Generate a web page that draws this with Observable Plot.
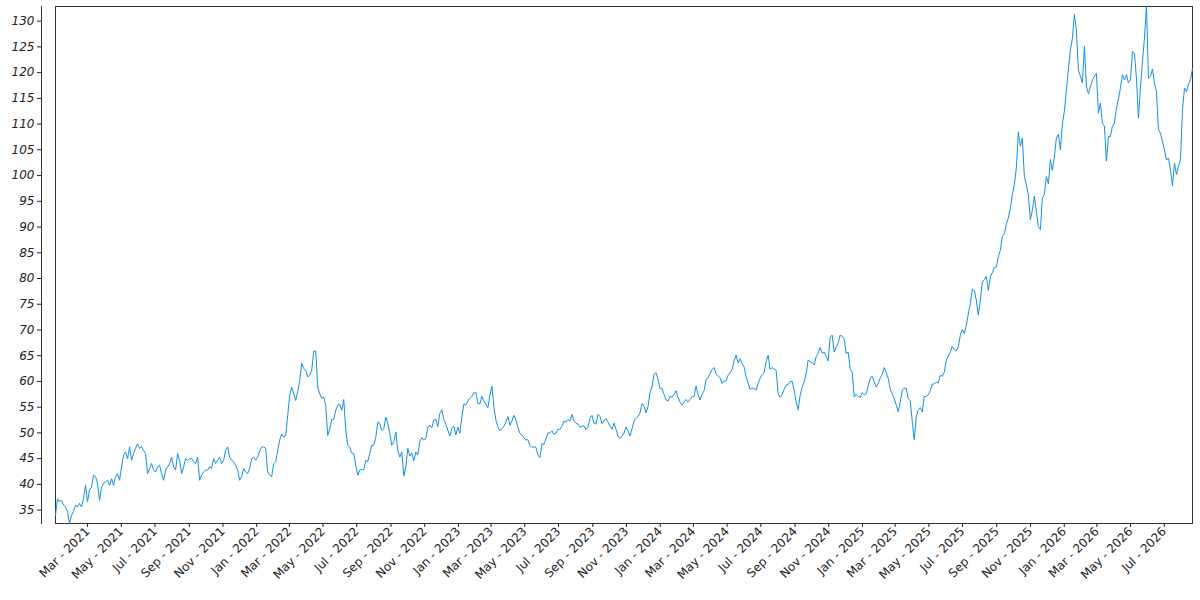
<!DOCTYPE html>
<html>
<head>
<meta charset="utf-8">
<script src="https://cdn.jsdelivr.net/npm/d3@7"></script>
<script src="https://cdn.jsdelivr.net/npm/@observablehq/plot@0.6"></script>
<style>
  html, body { margin: 0; padding: 0; background: #fff; }
</style>
</head>
<body>
<div id="chart"></div>
<script>
// Series span (evenly spaced observations between these dates)
const startDate = "2021-01-02";
const endDate = "2026-08-21";

// Values, in chronological order
const part1 = [
  34.0, 37.2, 36.6, 36.9, 36.0, 35.6, 34.7, 32.4, 34.0, 34.7,
  36.0, 35.6, 36.3, 35.6, 37.3, 39.8, 36.6, 38.9, 39.5, 41.8,
  41.5, 40.2, 36.9, 39.5, 40.2, 40.5, 40.8, 39.8, 41.1, 39.8,
  41.5, 42.1, 40.8, 43.4, 45.7, 46.3, 45.0, 47.3, 44.7, 46.0,
  47.0, 47.9, 47.0, 47.3, 46.6, 46.0, 42.1, 43.1, 44.05, 42.8,
  42.4, 43.4, 43.7, 42.1, 40.8, 42.8, 43.4, 44.05, 45.3, 43.4,
  42.8, 46.0, 44.7, 42.1, 43.4, 45.0, 44.7, 45.0, 45.0, 44.4,
  44.05, 45.3, 40.8, 41.8, 42.4, 42.8, 42.8, 43.4, 43.1, 45.0,
  44.05, 44.7, 45.3, 44.05, 44.7, 46.6, 47.3, 45.3, 44.7, 44.4,
  43.7, 42.8, 40.8, 41.5, 43.1, 42.4, 42.1, 43.1, 45.0, 45.3,
  44.7
];
const part2 = [
  45.3, 46.5, 47.2, 47.3, 47.0, 42.4, 41.8, 41.5, 44.05, 44.4,
  46.6, 48.6, 49.8, 49.2, 49.5, 53.4, 57.3, 58.9, 57.6, 56.3,
  58.0, 60.2, 63.5, 62.5, 62.2, 60.9, 61.2, 62.2, 65.9, 65.9,
  58.9, 57.6, 56.7, 57.0, 55.4, 49.5, 50.8, 52.6, 52.6, 54.4,
  55.4, 55.6, 54.4, 56.5, 50.5, 47.6, 47.2, 46.1, 46.0, 43.7,
  41.8, 42.8, 42.9, 42.8, 44.7, 44.4, 46.0, 47.6, 47.6, 49.1,
  52.1, 51.8, 50.5, 50.8, 53.1, 51.8, 49.9, 47.6, 48.3, 50.2,
  46.6, 45.3, 46.3, 41.6, 43.4, 47.0, 45.5, 46.1, 44.6, 46.3,
  45.7, 48.3, 49.1, 48.6, 48.9, 51.0, 51.5, 51.0, 52.5, 52.6,
  51.2, 53.8, 54.5, 52.6, 51.7, 50.5, 49.4
];
const part3 = [
  50.9, 51.3, 49.6, 51.1, 49.9, 53.1, 55.6, 55.4, 56.2, 56.8,
  57.1, 57.8, 57.8, 55.8, 55.6, 57.1, 56.2, 55.6, 54.9, 57.3,
  59.1, 55.1, 52.5, 51.2, 50.4, 50.8, 51.3, 52.1, 53.2, 51.5,
  52.3, 53.4, 52.5, 51.1, 49.9, 49.6, 49.1, 48.6, 48.7, 47.6,
  47.2, 47.3, 47.2, 45.7, 45.2, 47.9, 47.8, 48.8, 50.0, 50.0,
  50.4, 49.7, 49.9, 50.7, 50.7, 51.3, 52.3, 52.1, 52.6, 52.3,
  53.6, 52.3, 51.9, 51.7, 51.1, 51.3, 51.4, 50.7, 51.1, 52.8,
  53.4, 51.9, 51.7, 53.6, 53.2, 51.8, 52.3, 52.8, 52.1, 51.3,
  50.7, 51.9, 50.7, 49.4, 48.9, 49.4, 50.0, 51.1, 50.4, 49.4,
  50.8, 52.3, 52.8, 53.2, 53.9, 55.7, 55.2, 53.9, 55.1, 57.8
];
const part4 = [
  58.9, 61.4, 61.7, 60.4, 58.6, 58.6, 57.5, 56.4, 56.2, 57.1,
  56.9, 57.5, 58.2, 56.9, 56.0, 55.4, 56.0, 56.5, 56.0, 56.5,
  57.0, 57.1, 59.1, 57.5, 56.4, 57.5, 58.2, 60.4, 60.7, 61.5,
  62.3, 62.7, 61.5, 61.1, 60.7, 59.6, 60.1, 60.1, 61.2, 61.7,
  62.3, 64.0, 65.1, 63.6, 64.4, 63.5, 62.8, 60.9, 59.7, 58.4,
  58.7, 58.6, 58.3, 59.6, 60.6, 61.3, 61.7, 63.8, 65.1, 62.3,
  62.7, 62.4, 62.2, 57.6, 56.9, 57.4, 58.5, 59.3, 59.4, 60.0,
  60.0, 58.3, 56.0, 54.5, 57.3, 58.9, 59.9, 61.5, 64.2, 63.8,
  63.7, 63.2, 64.8, 65.5, 66.6, 65.5, 65.7, 64.8, 64.0, 68.6,
  69.0, 65.7, 66.7, 67.5, 69.0, 68.8, 68.3, 65.4, 65.7, 62.5
];
const part5 = [
  61.8, 57.0, 57.5, 57.1, 56.9, 57.8, 57.4, 57.6, 59.1, 60.7,
  61.0, 59.9, 58.9, 59.6, 60.7, 61.4, 62.7, 61.7, 60.6, 58.5,
  57.6, 56.7, 55.4, 54.1, 56.0, 58.3, 58.7, 58.7, 56.6, 56.3,
  52.2, 48.7, 53.1, 54.5, 54.9, 54.1, 57.1, 57.1, 57.4, 58.2,
  59.5, 59.5, 59.9, 59.7, 61.2, 61.0, 61.8, 64.1, 64.9, 65.7,
  66.8, 66.2, 65.9, 66.7, 68.97, 70.1, 69.3, 70.9, 73.1, 75.1,
  78.0, 77.6, 75.8, 72.9, 75.8, 79.3, 79.8, 80.4, 77.7, 80.3,
  81.1, 82.1, 82.2, 84.2, 85.5
];
const part6 = [
  88.2, 88.7, 90.6, 91.7, 93.6, 96.3, 98.2, 101.5, 108.5, 105.7,
  107.3, 99.8, 98.2, 96.3, 91.4, 93.3, 96.0, 93.0, 90.1, 89.5,
  95.6, 96.3, 99.8, 98.4, 103.1, 101.0, 103.6, 107.3, 108.0, 105.0,
  110.1, 112.5, 116.7, 120.5, 124.4, 126.7, 131.3, 128.3, 120.5, 119.3,
  118.0, 125.1, 117.4, 115.9, 117.3, 118.5, 119.3, 119.9, 112.1, 114.1,
  110.2, 109.6, 102.8, 107.6, 107.6, 109.6, 110.2, 113.1, 114.9, 117.0,
  119.6, 118.6, 119.6, 118.0, 118.6, 124.1, 123.8, 118.9, 111.2, 117.0,
  122.2, 126.7, 132.85, 118.9, 119.3, 120.7, 118.0, 116.3, 109.0, 108.2,
  106.6, 105.0, 103.0, 103.4, 101.1, 98.0, 102.4, 100.2, 101.8, 103.1,
  112.8, 117.0, 116.3, 117.8, 118.6, 120.8
];

// Axis ticks
const yTicks = d3.range(35, 131, 5);
const tickFormat = "%b - %Y";

const values = [...part1, ...part2, ...part3, ...part4, ...part5, ...part6];
const t0 = new Date(startDate), t1 = new Date(endDate);
const data = values.map((v, i) => ({
  date: new Date(+t0 + i * (t1 - t0) / (values.length - 1)),
  value: v
}));
const xTicks = d3.utcMonth.every(2).range(t0, t1);

const chart = Plot.plot({
  width: 1200,
  height: 600,
  marginLeft: 41,
  marginRight: 8,
  marginTop: 6,
  marginBottom: 77,
  style: {fontFamily: "DejaVu Sans", fontSize: "12px", color: "#222", background: "#fff", overflow: "visible"},
  x: {type: "utc", domain: [t0, t1], insetLeft: 14},
  y: {domain: d3.extent(values)},
  marks: [
    Plot.frame({insetLeft: 14, stroke: "#333"}),
    Plot.frame({anchor: "left", stroke: "#333"}),
    Plot.axisY({ticks: yTicks, tickSize: 4, tickPadding: 3, fontStyle: "italic", fontSize: 12, label: null}),
    Plot.axisX({ticks: xTicks, tickFormat: d3.utcFormat(tickFormat), tickRotate: -45, tickSize: 4, tickPadding: 2, fontSize: 12, label: null}),
    Plot.line(data, {x: "date", y: "value", stroke: "#1590e6", strokeWidth: 1})
  ]
});
document.getElementById("chart").appendChild(chart);
</script>
</body>
</html>
